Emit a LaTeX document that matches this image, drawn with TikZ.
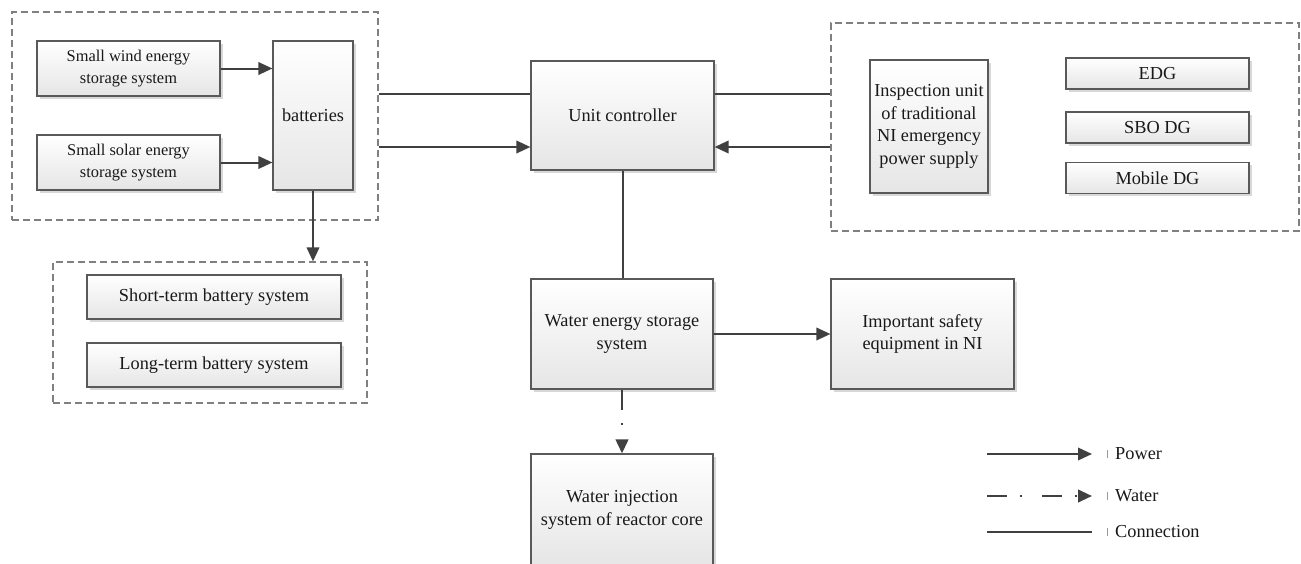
\documentclass[tikz,border=0pt]{standalone}
\usepackage{fontspec}
\setmainfont{Liberation Serif}
\usetikzlibrary{arrows.meta,shadows,calc}

\begin{document}
\begin{tikzpicture}[x=1pt,y=-1pt,>={Triangle[length=14pt,width=12.5pt]},
  blk/.style={draw=black!65,line width=1.2pt,top color=white,bottom color=black!10,
    drop shadow={shadow xshift=2.5pt,shadow yshift=-2.5pt,fill=black!30,opacity=.5},
    align=center,inner sep=2pt,text=black!90,font=\fontsize{18.3}{22.5}\selectfont},
  sml/.style={blk,font=\fontsize{16.4}{22}\selectfont},
  grp/.style={draw=black!50,line width=1.2pt,dash pattern=on 7pt off 4pt},
  pwr/.style={->,draw=black!75,line width=2pt},
  conn/.style={draw=black!75,line width=2pt},
  wtr/.style={->,draw=black!75,line width=2.5pt,dash pattern=on 20pt off 13pt on 2pt off 20pt},
  lbl/.style={anchor=west,inner sep=0pt,font=\fontsize{18.3}{22}\selectfont,text=black!90},
  tick/.style={draw=black!40,line width=1pt},
]
\useasboundingbox (0,0) rectangle (1301,563);
% dashed groups
\node[grp,minimum width=366pt,minimum height=208pt] (lgrp) at (195,116) {};
\node[grp,minimum width=314pt,minimum height=141pt] (sgrp) at (210,332.5) {};
\node[grp,minimum width=468pt,minimum height=208pt] (rgrp) at (1065,127) {};
% blocks
\node[sml,minimum width=183pt,minimum height=55pt] (wind) at (128.5,68.5) {Small wind energy\\storage system};
\node[sml,minimum width=183pt,minimum height=55pt] (solar) at (128.5,162.5) {Small solar energy\\storage system};
\node[blk,minimum width=80pt,minimum height=149pt] (batt) at (313,115.5) {batteries};
\node[blk,minimum width=254pt,minimum height=44pt] (short) at (214,297) {Short-term battery system};
\node[blk,minimum width=254pt,minimum height=44pt] (long) at (214,365) {Long-term battery system};
\node[blk,minimum width=183pt,minimum height=109pt] (ctrl) at (622.5,115.5) {Unit controller};
\node[blk,minimum width=118pt,minimum height=133pt] (insp) at (929,126.5) {Inspection unit\\of traditional\\NI emergency\\power supply};
\node[blk,minimum width=183pt,minimum height=31pt] (edg) at (1157.5,73.5) {EDG};
\node[blk,minimum width=183pt,minimum height=31pt] (sbo) at (1157.5,127.5) {SBO DG};
\node[blk,minimum width=183pt,minimum height=31pt] (mob) at (1157.5,178) {Mobile DG};
\node[blk,minimum width=182pt,minimum height=110pt] (wes) at (622,334) {Water energy storage\\system};
\node[blk,minimum width=183pt,minimum height=110pt] (ise) at (922.5,334) {Important safety\\equipment in NI};
\node[blk,minimum width=182pt,minimum height=112pt] (wij) at (622,510) {Water injection\\system of reactor core};
% connectors
\draw[pwr] (wind.east) -- (wind.east -| batt.west);
\draw[pwr] (solar.east) -- (solar.east -| batt.west);
\draw[pwr] (batt.south) -- (batt.south |- sgrp.north);
\draw[conn] (lgrp.east |- 0,94) -- (ctrl.west |- 0,94);
\draw[pwr] (lgrp.east |- 0,147) -- (ctrl.west |- 0,147);
\draw[conn] (ctrl.east |- 0,94) -- (rgrp.west |- 0,94);
\draw[pwr] (rgrp.west |- 0,147) -- (ctrl.east |- 0,147);
\draw[conn] (ctrl.south) -- (ctrl.south |- wes.north);
\draw[pwr] (wes.east) -- (ise.west);
\draw[wtr] (wes.south) -- (wij.north);
% legend
\foreach \y/\s/\n/\t in {454/pwr/pw/Power,496/wtr/wt/Water,532/conn/cn/Connection}{
  \coordinate (\n0) at (987,\y);
  \node[lbl] (\n) at (1115,\y) {\t};
  \draw[\s,shorten >=23pt] (\n0) -- (\n0 -| \n.west);
  \draw[tick] (\n.west) ++(-8,-4) -- ++(0,8);
}
\end{tikzpicture}
\end{document}
